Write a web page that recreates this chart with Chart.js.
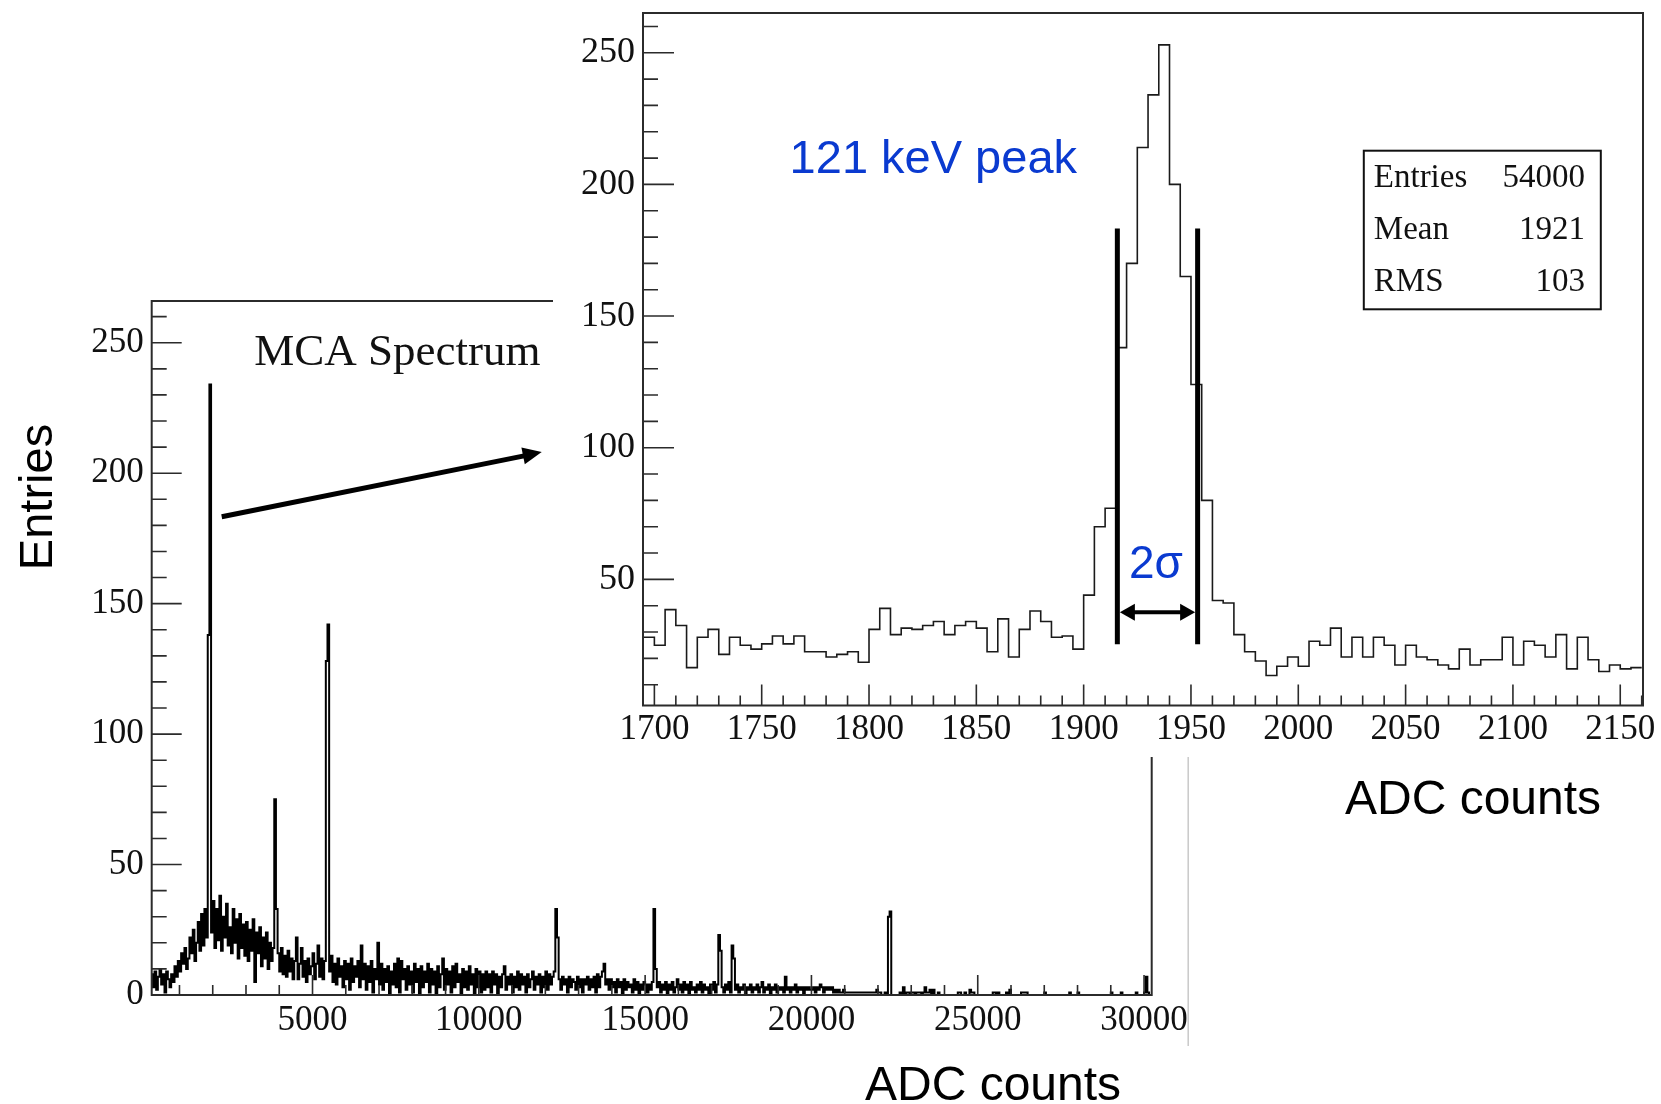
<!DOCTYPE html>
<html>
<head>
<meta charset="utf-8">
<title>MCA Spectrum</title>
<script src="https://cdn.jsdelivr.net/npm/chart.js@4.4.1/dist/chart.umd.min.js"></script>
<style>
  html, body { margin: 0; padding: 0; background: #fff; }
  #wrap { position: relative; width: 1661px; height: 1104px; overflow: hidden; background: #fff; }
  #mainCanvas { position: absolute; left: 0; top: 0; }
  #insetCanvas { position: absolute; left: 553px; top: 0; }
</style>
</head>
<body>
<div id="wrap">
  <canvas id="mainCanvas" width="1661" height="1104"></canvas>
  <canvas id="insetCanvas" width="1108" height="830"></canvas>
</div>
<script>
// ---------------- full MCA spectrum: 50 ADC-count bins from 150 ----------------
const mcaBinStart = 150;
const mcaBinWidth = 50;
const mcaCounts150to5100 = [8,3,9,2,7,10,4,8,1,9,6,3,8,5,11,7,13,9,16,12,18,10,14,22,16,25,13,20,28,17,31,19,33,22,138,234,
  24,36,18,33,21,38,17,30,22,35,19,26,16,33,20,29,14,31,18,27,15,28,13,25,17,29,5,24,16,26,11,22,14,24,10,20,13,18,75,33,
  16,9,18,8,15,7,17,9,14,6,13,22,6,12,18,7,13,5,14,8,11,16,6,12];
const mcaCounts5150to10100 = [19,7,14,6,13,128,142,9,15,5, 12,4,14,7,11,3,13,6,12,2, 14,5,11,7,13,3,19,6,12,2,
  11,5,13,1,10,6,20,4,12,2, 10,5,11,0,9,4,12,3,14,1, 13,6,10,2,11,4,9,1,12,5, 10,0,11,3,9,5,12,1,10,4,
  9,0,11,3,8,14,2,10,4,9, 1,11,3,12,5,8,0,10,3,9, 2,11,4,8,0,10,3,9,1,8];
const mcaCounts10150to15100 = [2,9,3,8,1,9,4,8,0,7, 3,8,11,2,7,4,8,1,7,3, 9,2,8,4,7,1,8,3,6,9, 2,7,4,8,1,7,3,9,2,8,
  4,7,9,33,22,6,2,7,4,6, 1,7,3,6,5,2,7,3,6,1, 6,4,7,2,6,3,7,1,8,3, 7,9,12,4,6,2,6,3,5,1,
  6,3,5,0,6,2,5,3,4,1, 6,2,5,0,4,2,5,4,1,4];
const mcaCounts15150to20100 = [2,5,33,10,3,5,1,4,2,5, 0,4,2,5,1,3,6,2,4,1, 5,2,4,0,5,2,3,1,4,2, 5,1,4,2,3,0,4,2,5,1,
  4,23,17,3,1,4,2,5,1,19, 14,2,4,1,3,2,4,0,3,2, 4,1,3,2,4,1,3,5,1,3, 2,4,0,3,2,4,1,3,2,3,
  1,7,2,3,1,3,2,4,1,3, 2,3,0,3,2,3,2,2,3,1];
const mcaCounts20150to25100 = [3,2,4,3,1,3,2,3,2,3, 1,2,1,2,1,1,2,1,1,1, 1,1,1,1,1,1,1,1,1,1, 1,1,1,1,1,1,2,1,1,0,
  0,1,0,30,32,0,0,0,0,0, 1,0,3,0,1,1,0,1,1,0, 1,1,1,0,1,3,1,1,2,0, 2,0,0,1,0,0,0,0,0,0,
  0,0,0,0,0,1,1,0,0,1, 0,0,2,1,1,0,0,0,0,0];
const mcaCounts25150to30200 = [0,0,0,0,0,0,1,1,0,1, 0,0,0,0,1,0,2,0,0,0, 0,0,0,1,1,1,1,0,0,0, 0,0,0,0,0,0,0,1,0,0,
  0,0,0,0,0,0,0,0,0,0, 0,0,1,0,0,0,0,1,0,0, 0,0,0,0,0,0,0,0,0,0, 0,0,0,0,0,0,0,1,0,0,
  0,0,0,1,0,0,0,0,0,0, 0,0,1,0,0,0,0,1,7,1, 0,0];

// ---------------- zoom on the 121 keV line: 5 ADC-count bins from 1695 ----------------
const peakBinStart = 1695;
const peakBinWidth = 5;
const peakCounts = [
  28, 25, 38.5, 32.5, 16.5, 28, 31, 21.5, 28, 25, 23.5,
  25.5, 28.5, 25.5, 28.5, 22.5, 22.5, 20.5, 21.5, 22.5, 18.5,
  31, 39, 29, 31.5, 31, 32.5, 34, 29, 32.5, 34,
  31.5, 22.5, 35, 20.5, 31, 38, 34, 28, 28.5, 23.5,
  44, 70, 77, 138, 170, 214, 234, 253, 200, 165,
  124, 80, 42, 41, 29, 22.5, 19, 13.5, 17, 20.5,
  17, 26.5, 25, 31.5, 20.5, 28, 20.5, 28, 25, 17.5,
  25, 20.5, 19.5, 17.5, 16, 23.5, 17.5, 19.5, 19.5, 28,
  17.5, 26.5, 25, 20.5, 29, 16, 28, 19.5, 15, 17.5,
  16, 16.5
];

// ---------------- tick labels and annotation values ----------------
const mainXTickLabels = [5000, 10000, 15000, 20000, 25000, 30000];
const mainYTickLabels = [0, 50, 100, 150, 200, 250];
const insetXTickLabels = [1700, 1750, 1800, 1850, 1900, 1950, 2000, 2050, 2100, 2150];
const insetYTickLabels = [50, 100, 150, 200, 250];
const statsNames = ['Entries', 'Mean', 'RMS'];
const statsValues = ['54000', '1921', '103'];
const sigmaWindow = [1915.7, 1953.1];

// ---------------- helpers ----------------
function histogramPoints(start, width, counts) {
  const pts = counts.map((c, i) => ({ x: start + i * width, y: c }));
  pts.push({ x: start + counts.length * width, y: counts[counts.length - 1] });
  return pts;
}

const mcaCounts = [].concat(mcaCounts150to5100, mcaCounts5150to10100, mcaCounts10150to15100,
  mcaCounts15150to20100, mcaCounts20150to25100, mcaCounts25150to30200);

const serif = '"Liberation Serif", "Times New Roman", serif';
const sans = '"Liberation Sans", Arial, Helvetica, sans-serif';
const blue = '#0a3ad0';
const frameColor = '#2b2b2b';

Chart.defaults.font.family = serif;
Chart.defaults.color = '#111';

// ROOT-style frame with ticks pointing into the plot
function drawRootAxes(chart, t) {
  const { ctx, chartArea: a } = chart;
  const { x, y } = chart.scales;
  const first = (min, step) => Math.ceil(min / step - 1e-9) * step;
  const isMajor = (v, step) => Math.abs(v / step - Math.round(v / step)) < 1e-6;
  ctx.save();
  ctx.strokeStyle = frameColor;
  ctx.lineWidth = 1.6;
  ctx.beginPath();
  for (let v = first(x.min, t.xMinor); v <= x.max + 1e-9; v += t.xMinor) {
    const px = x.getPixelForValue(v);
    ctx.moveTo(px, a.bottom);
    ctx.lineTo(px, a.bottom - (isMajor(v, t.xMajor) ? t.xMajorLen : t.xMinorLen));
  }
  for (let v = first(y.min, t.yMinor); v <= y.max + 1e-9; v += t.yMinor) {
    const py = y.getPixelForValue(v);
    ctx.moveTo(a.left, py);
    ctx.lineTo(a.left + (isMajor(v, t.yMajor) ? t.yMajorLen : t.yMinorLen), py);
  }
  ctx.stroke();
  ctx.lineWidth = 2;
  ctx.strokeRect(a.left, a.top, a.right - a.left, a.bottom - a.top);
  ctx.restore();
}

function drawArrowHead(ctx, tipX, tipY, ang, len, half) {
  const bx = tipX - len * Math.cos(ang), by = tipY - len * Math.sin(ang);
  ctx.beginPath();
  ctx.moveTo(tipX, tipY);
  ctx.lineTo(bx + half * Math.sin(ang), by - half * Math.cos(ang));
  ctx.lineTo(bx - half * Math.sin(ang), by + half * Math.cos(ang));
  ctx.closePath();
  ctx.fill();
  return { x: bx, y: by };
}

// ---------------- full spectrum ----------------
const mainDecor = {
  id: 'mainDecor',
  beforeDraw(chart) {
    const { ctx } = chart;
    ctx.save();
    ctx.fillStyle = '#fff';
    ctx.fillRect(0, 0, chart.width, chart.height);
    ctx.restore();
  },
  afterDatasetsDraw(chart) {
    const { ctx, chartArea: a, scales: { x, y } } = chart;
    drawRootAxes(chart, { xMinor: 1000, xMajor: 5000, xMajorLen: 20, xMinorLen: 10,
                          yMinor: 10, yMajor: 50, yMajorLen: 30, yMinorLen: 15 });
    ctx.save();
    // edge of the spectrum panel
    ctx.strokeStyle = '#c9c9c9';
    ctx.lineWidth = 1.5;
    ctx.beginPath();
    ctx.moveTo(a.right + 36.5, 757);
    ctx.lineTo(a.right + 36.5, 1046);
    ctx.stroke();

    // arrow from the 121 keV line toward the zoomed view
    const x0 = x.getPixelForValue(2270), y0 = y.getPixelForValue(183.3);
    const x1 = x.getPixelForValue(11891), y1 = y.getPixelForValue(208.1);
    const ang = Math.atan2(y1 - y0, x1 - x0);
    ctx.fillStyle = '#000';
    ctx.strokeStyle = '#000';
    const base = drawArrowHead(ctx, x1, y1, ang, 19, 8.5);
    ctx.lineWidth = 5;
    ctx.beginPath();
    ctx.moveTo(x0, y0);
    ctx.lineTo(base.x + 1, base.y);
    ctx.stroke();

    // title
    ctx.fillStyle = '#111';
    ctx.font = '45px ' + serif;
    ctx.textAlign = 'left';
    ctx.textBaseline = 'alphabetic';
    ctx.fillText('MCA Spectrum', a.left + 102.5, a.top + 64);

    // axis titles
    ctx.fillStyle = '#000';
    ctx.font = '48px ' + sans;
    ctx.textAlign = 'center';
    ctx.fillText('ADC counts', 993, 1100);
    ctx.save();
    ctx.translate(52, 497);
    ctx.rotate(-Math.PI / 2);
    ctx.font = '47px ' + sans;
    ctx.fillText('Entries', 0, 0);
    ctx.restore();
    ctx.restore();
  }
};

new Chart(document.getElementById('mainCanvas'), {
  type: 'line',
  data: {
    datasets: [{
      label: 'MCA Spectrum',
      data: histogramPoints(mcaBinStart, mcaBinWidth, mcaCounts),
      borderColor: '#000',
      borderWidth: 2,
      pointRadius: 0,
      stepped: true,
      fill: false,
      tension: 0
    }]
  },
  options: {
    responsive: false,
    animation: false,
    devicePixelRatio: 1,
    layout: { padding: { left: 0, top: 301, right: 1661 - 1151.7, bottom: 0 } },
    plugins: { legend: { display: false }, tooltip: { enabled: false } },
    scales: {
      x: {
        type: 'linear', min: 165, max: 30230,
        grid: { display: false, drawTicks: false },
        border: { display: false },
        ticks: { font: { family: serif, size: 35 }, color: '#111', padding: 5,
                 autoSkip: false, maxRotation: 0, callback: v => String(v) },
        afterBuildTicks: s => { s.ticks = mainXTickLabels.map(v => ({ value: v })); },
        afterFit: s => { s.height = 1104 - 995; s.paddingLeft = 0; s.paddingRight = 0; }
      },
      y: {
        type: 'linear', min: 0, max: 266,
        grid: { display: false, drawTicks: false },
        border: { display: false },
        ticks: { font: { family: serif, size: 35 }, color: '#111', padding: 8,
                 autoSkip: false, callback: v => String(v) },
        afterBuildTicks: s => { s.ticks = mainYTickLabels.map(v => ({ value: v })); },
        afterFit: s => { s.width = 151.7; s.paddingTop = 0; s.paddingBottom = 0; }
      }
    }
  },
  plugins: [mainDecor]
});

// ---------------- zoomed 121 keV peak ----------------
const insetPanelHeight = 757;
const insetDecor = {
  id: 'insetDecor',
  beforeDraw(chart) {
    const { ctx } = chart;
    ctx.save();
    ctx.fillStyle = '#fff';
    ctx.fillRect(0, 0, chart.width, insetPanelHeight);
    ctx.restore();
  },
  afterDatasetsDraw(chart) {
    const { ctx, chartArea: a, scales: { x, y } } = chart;
    drawRootAxes(chart, { xMinor: 10, xMajor: 50, xMajorLen: 21, xMinorLen: 10,
                          yMinor: 10, yMajor: 50, yMajorLen: 31, yMinorLen: 15 });
    ctx.save();
    // 2 sigma window
    ctx.strokeStyle = '#000';
    ctx.fillStyle = '#000';
    ctx.lineWidth = 5;
    const yTop = y.getPixelForValue(183.3), yBot = y.getPixelForValue(25.4);
    const xs = sigmaWindow.map(v => x.getPixelForValue(v));
    xs.forEach(px => {
      ctx.beginPath();
      ctx.moveTo(px, yTop);
      ctx.lineTo(px, yBot);
      ctx.stroke();
    });
    const ay = y.getPixelForValue(37.5);
    const lx = xs[0] + 2.5, rx = xs[1] - 2.5;
    const lb = drawArrowHead(ctx, lx, ay, Math.PI, 15, 8.5);
    const rb = drawArrowHead(ctx, rx, ay, 0, 15, 8.5);
    ctx.lineWidth = 4;
    ctx.beginPath();
    ctx.moveTo(lb.x - 1, ay);
    ctx.lineTo(rb.x + 1, ay);
    ctx.stroke();

    // labels
    ctx.fillStyle = blue;
    ctx.textBaseline = 'alphabetic';
    ctx.font = '47px ' + sans;
    ctx.textAlign = 'left';
    ctx.fillText('121 keV peak', x.getPixelForValue(1763), y.getPixelForValue(204.2));
    ctx.font = '46px ' + sans;
    ctx.textAlign = 'center';
    ctx.fillText('2σ', x.getPixelForValue(1933.7), y.getPixelForValue(50.4));

    // statistics box
    const bw = 237, bh = 158.6;
    const bx = a.right - 42.2 - bw, by = a.top + 137.7;
    ctx.fillStyle = '#fff';
    ctx.fillRect(bx, by, bw, bh);
    ctx.strokeStyle = '#111';
    ctx.lineWidth = 2;
    ctx.strokeRect(bx, by, bw, bh);
    ctx.fillStyle = '#111';
    ctx.font = '33px ' + serif;
    statsNames.forEach((name, i) => {
      const base = by + 36.6 + i * 51.8;
      ctx.textAlign = 'left';
      ctx.fillText(name, bx + 10, base);
      ctx.textAlign = 'right';
      ctx.fillText(statsValues[i], bx + bw - 15.8, base);
    });

    // axis title
    ctx.fillStyle = '#000';
    ctx.font = '48px ' + sans;
    ctx.textAlign = 'center';
    ctx.fillText('ADC counts', a.right - 170, a.bottom + 108);
    ctx.restore();
  }
};

new Chart(document.getElementById('insetCanvas'), {
  type: 'line',
  data: {
    datasets: [{
      label: '121 keV peak',
      data: histogramPoints(peakBinStart, peakBinWidth, peakCounts),
      borderColor: '#1a1a1a',
      borderWidth: 1.6,
      pointRadius: 0,
      stepped: true,
      fill: false,
      tension: 0
    }]
  },
  options: {
    responsive: false,
    animation: false,
    devicePixelRatio: 1,
    layout: { padding: { left: 0, top: 13, right: 18, bottom: 0 } },
    plugins: { legend: { display: false }, tooltip: { enabled: false } },
    scales: {
      x: {
        type: 'linear', min: 1694.7, max: 2160.6,
        grid: { display: false, drawTicks: false },
        border: { display: false },
        ticks: { font: { family: serif, size: 35 }, color: '#111', padding: 3,
                 autoSkip: false, maxRotation: 0, callback: v => String(v) },
        afterBuildTicks: s => { s.ticks = insetXTickLabels.map(v => ({ value: v })); },
        afterFit: s => { s.height = 830 - 705.5; s.paddingLeft = 0; s.paddingRight = 0; }
      },
      y: {
        type: 'linear', min: 2.1, max: 265.1,
        grid: { display: false, drawTicks: false },
        border: { display: false },
        ticks: { font: { family: serif, size: 36 }, color: '#111', padding: 8,
                 autoSkip: false, callback: v => String(v) },
        afterBuildTicks: s => { s.ticks = insetYTickLabels.map(v => ({ value: v })); },
        afterFit: s => { s.width = 90; s.paddingTop = 0; s.paddingBottom = 0; }
      }
    }
  },
  plugins: [insetDecor]
});
</script>
</body>
</html>
